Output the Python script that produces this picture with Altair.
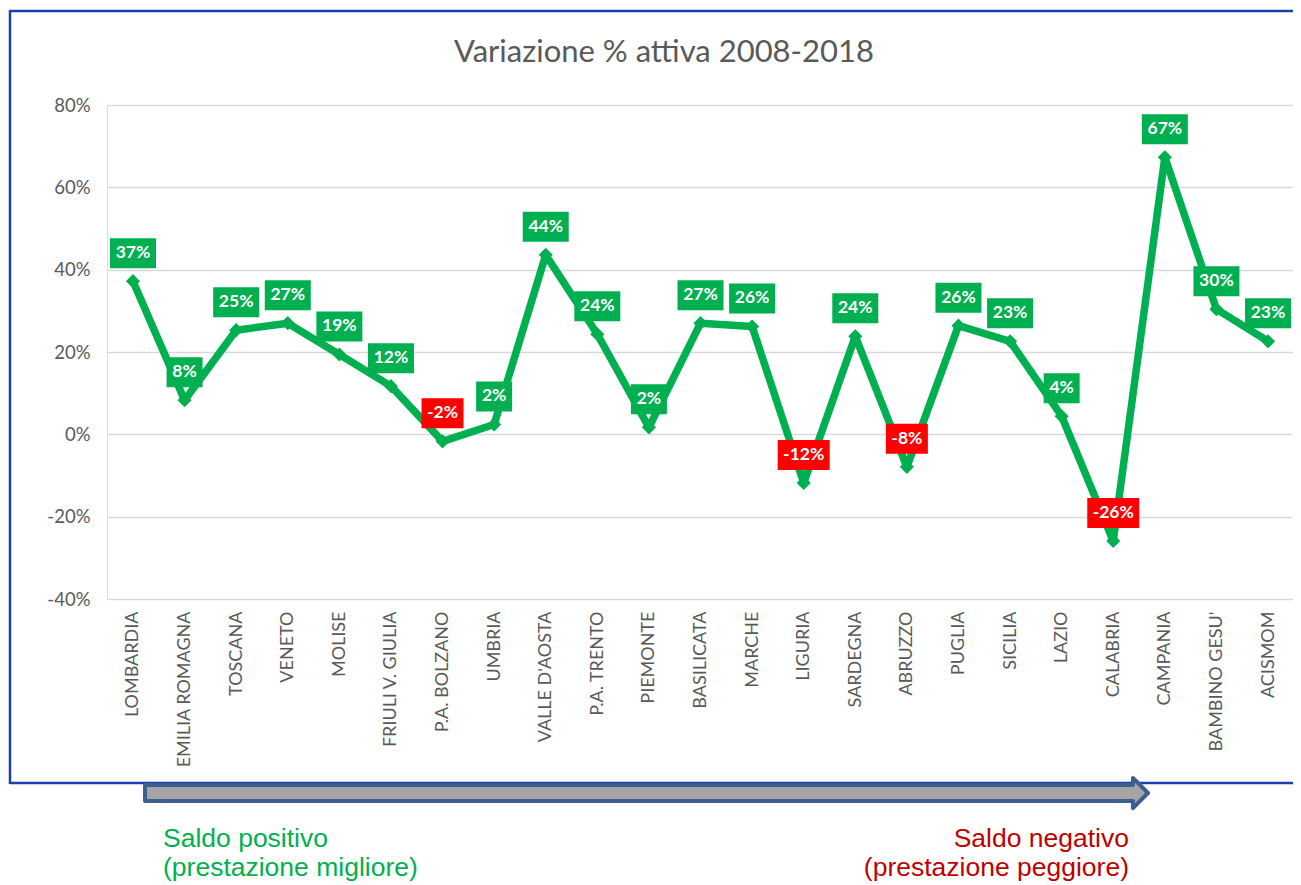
import altair as alt
import pandas as pd

categories = ["LOMBARDIA", "EMILIA ROMAGNA", "TOSCANA", "VENETO", "MOLISE",
              "FRIULI V. GIULIA", "P.A. BOLZANO", "UMBRIA", "VALLE D'AOSTA",
              "P.A. TRENTO", "PIEMONTE", "BASILICATA", "MARCHE", "LIGURIA",
              "SARDEGNA", "ABRUZZO", "PUGLIA", "SICILIA", "LAZIO", "CALABRIA",
              "CAMPANIA", "BAMBINO GESU'", "ACISMOM"]
values = [37.2, 8.3, 25.3, 27.0, 19.4, 11.7, -1.7, 2.4, 43.6, 24.3, 1.7, 27.0,
          26.2, -11.8, 23.8, -7.9, 26.4, 22.6, 4.4, -25.9, 67.3, 30.4, 22.6]
y_ticks = [-40, -20, 0, 20, 40, 60, 80]
title_text = "Variazione % attiva 2008-2018"
left_note = ["Saldo positivo", "(prestazione migliore)"]
right_note = ["Saldo negativo", "(prestazione peggiore)"]

GREEN = "#00b050"
RED = "#ff0000"
NOTE_RED = "#c00000"
GREY_TXT = "#595959"
BORDER = "#1c3fae"
ARROW_FILL = "#a5a5a5"
ARROW_STROKE = "#3d5f8f"
FONT = "Lato"

W, H = 1186, 494

df = pd.DataFrame({"regione": categories, "var": values})
one = pd.DataFrame({"k": [0]})

x_enc = alt.X("regione:N", sort=categories,
              scale=alt.Scale(type="point", padding=0.494, align=0.51),
              axis=alt.Axis(labelAngle=-90, domain=False, ticks=False, grid=False,
                            labelFont=FONT, labelFontSize=18, labelColor=GREY_TXT,
                            labelPadding=12, title=None))
y_scale = alt.Scale(domain=[-40, 80], nice=False, zero=False)
y_enc = alt.Y("var:Q", scale=y_scale,
              axis=alt.Axis(values=y_ticks, labelExpr="datum.value + '%'",
                            domain=False, ticks=False, grid=True,
                            gridColor="#d9d9d9", gridWidth=1.3,
                            labelFont=FONT, labelFontSize=18.5, labelColor=GREY_TXT,
                            labelPadding=17, title=None))

base = alt.Chart(df)

frame_kw = dict(color=BORDER, strokeWidth=2.5)
border_top = alt.Chart(one).mark_rule(**frame_kw).encode(
    x=alt.value(-97), x2=alt.value(W + 8), y=alt.value(-94))
border_left = alt.Chart(one).mark_rule(**frame_kw).encode(
    x=alt.value(-97), y=alt.value(-95), y2=alt.value(679))
border_bottom = alt.Chart(one).mark_rule(**frame_kw).encode(
    x=alt.value(-97), x2=alt.value(W + 8), y=alt.value(678))

title = alt.Chart(one).mark_text(font=FONT, fontSize=31, color=GREY_TXT, align="center",
                                 baseline="alphabetic").encode(
    x=alt.value(557), y=alt.value(-43), text=alt.value(title_text))

line = base.mark_line(color=GREEN, strokeWidth=7.5, strokeJoin="round").encode(x=x_enc, y=y_enc)
points = base.mark_point(shape="diamond", filled=True, size=200, color=GREEN, opacity=1).encode(
    x=x_enc, y=y_enc)

lab = base.transform_calculate(
    lab="round(datum.var) + '%'",
    w="26 + 10 * length(toString(abs(round(datum.var)))) + (datum.var < 0 ? 6 : 0)",
    lo="datum.var + 3.16",
    hi="datum.var + 10.45",
)
boxes = lab.mark_bar().encode(
    x=x_enc,
    y=alt.Y("lo:Q", scale=y_scale),
    y2="hi:Q",
    size=alt.Size("w:Q", scale=None),
    color=alt.condition("datum.var < 0", alt.value(RED), alt.value(GREEN)),
)
texts = lab.mark_text(dy=-28, color="white", font=FONT, fontWeight="bold", fontSize=17.5,
                      baseline="middle").encode(x=x_enc, y=y_enc, text="lab:N")

arrow_path = ("M -1 -0.016 L 0.97 -0.016 L 0.97 -0.03 L 1 0 L 0.97 0.03 "
              "L 0.97 0.016 L -1 0.016 Z")
arrow = alt.Chart(one).mark_point(shape=arrow_path, size=1006009, filled=True,
                                  fill=ARROW_FILL, stroke=ARROW_STROKE, strokeWidth=4,
                                  strokeJoin="round", opacity=1).encode(
    x=alt.value(539.5), y=alt.value(688))

note_l = alt.Chart(one).mark_text(font="Liberation Sans", fontSize=26.5, color=GREEN,
                                  align="left", baseline="alphabetic", lineHeight=29).encode(
    x=alt.value(56), y=alt.value(742), text=alt.value(left_note))
note_r = alt.Chart(one).mark_text(font="Liberation Sans", fontSize=26.5, color=NOTE_RED,
                                  align="right", baseline="alphabetic", lineHeight=29).encode(
    x=alt.value(1022), y=alt.value(742), text=alt.value(right_note))

chart = alt.layer(border_top, border_left, border_bottom, title, line, points, boxes, texts,
                  arrow, note_l, note_r).properties(
    width=W, height=H,
    autosize=alt.AutoSizeParams(type="none"),
    padding={"left": 99, "top": 97, "right": 0, "bottom": 286},
).configure_view(stroke="transparent").configure(background="white")

chart.save("out.html", embed_options={"renderer": "svg", "actions": False})
